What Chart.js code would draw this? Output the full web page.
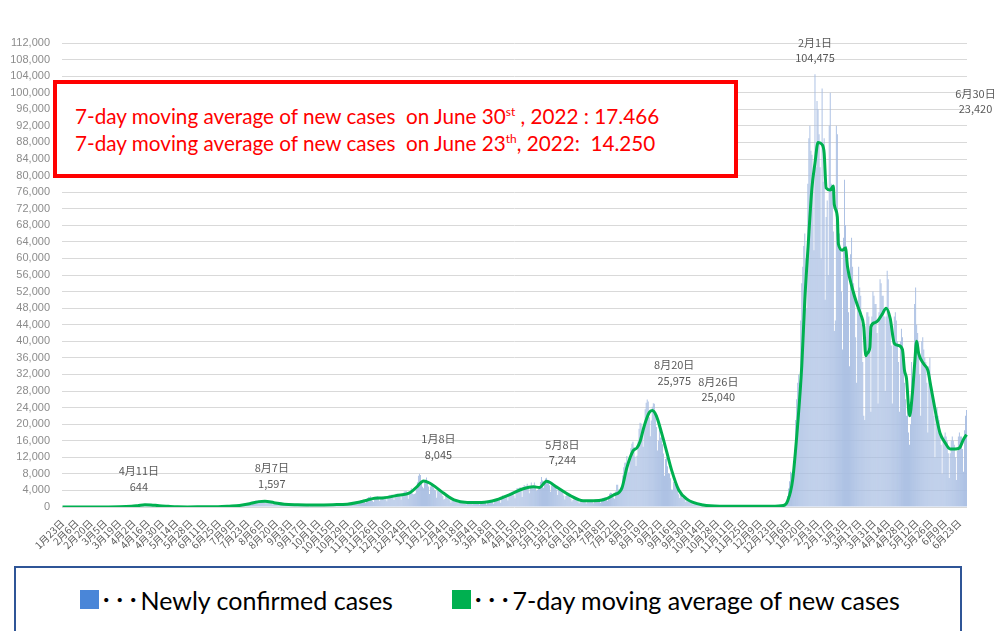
<!DOCTYPE html>
<html>
<head>
<meta charset="utf-8">
<script src="https://cdn.jsdelivr.net/npm/chart.js@4.4.1/dist/chart.umd.min.js"></script>
<style>
  body { margin: 0; width: 1003px; height: 631px; overflow: hidden; background: #fff; position: relative; }
  #chart-wrap { position: absolute; left: 0; top: 0; width: 1003px; height: 566px; }
  #note { position: absolute; left: 53px; top: 80px; width: 685px; height: 98px; box-sizing: border-box;
    border: 4px solid #ff0000; background: #fff; color: #ff0000; font-family: Lato, sans-serif;
    font-size: 20.7px; line-height: 27px; padding: 19px 0 0 18px; white-space: pre; }
  #note sup { font-size: 12px; vertical-align: top; line-height: 18px; }
  #legend { position: absolute; left: 14px; top: 566px; width: 948px; height: 90px; box-sizing: border-box;
    border: 2px solid #2f5597; background: #fff; }
  .sq { position: absolute; top: 22px; width: 19px; height: 19px; }
  .lt { position: absolute; top: 15px; font-family: Lato, sans-serif; font-size: 25px; line-height: 32px; color: #000; white-space: pre; }
  .dots { font-family: "Noto Sans CJK JP", sans-serif; letter-spacing: 1px; }
</style>
</head>
<body>
<div id="chart-wrap"><canvas id="my-chart" width="1003" height="566"></canvas></div>
<div id="note">7-day moving average of new cases  on June 30<sup>st</sup> , 2022 : 17.466
7-day moving average of new cases  on June 23<sup>th</sup>, 2022:  14.250</div>
<div id="legend">
  <div class="sq" style="left:64px;background:#4a86d8"></div>
  <div class="lt" style="left:84px"><span class="dots">･･･</span>Newly confirmed cases</div>
  <div class="sq" style="left:436px;background:#00b050"></div>
  <div class="lt" style="left:456px"><span class="dots">･･･</span>7-day moving average of new cases</div>
</div>
<script>
//Global Variables
let ctx = document.getElementById('my-chart');

let firstDay = Date.UTC(2020, 0, 23);
let dayCount = 890;

// one category per day, 2020-01-23 .. 2022-06-30
let categories = [];
for (let i = 0; i < dayCount; i++) {
  categories.push(new Date(firstDay + i * 86400000).toISOString().slice(0, 10));
}

// labels shown every 14th day
let tickLabels = [
  '1月23日', '2月6日', '2月20日', '3月5日', '3月19日', '4月2日', '4月16日', '4月30日', '5月14日', '5月28日',
  '6月11日', '6月25日', '7月9日', '7月23日', '8月6日', '8月20日', '9月3日', '9月17日', '10月1日', '10月15日',
  '10月29日', '11月12日', '11月26日', '12月10日', '12月24日', '1月7日', '1月21日', '2月4日', '2月18日', '3月4日',
  '3月18日', '4月1日', '4月15日', '4月29日', '5月13日', '5月27日', '6月10日', '6月24日', '7月8日', '7月22日',
  '8月5日', '8月19日', '9月2日', '9月16日', '9月30日', '10月14日', '10月28日', '11月11日', '11月25日', '12月9日',
  '12月23日', '1月6日', '1月20日', '2月3日', '2月17日', '3月3日', '3月17日', '3月31日', '4月14日', '4月28日',
  '5月12日', '5月26日', '6月9日', '6月23日'
];

// newly confirmed cases, one row per week (Thu..Wed)
let dailyCases = [
  0, 1, 0, 0, 1, 1, 2,
  3, 1, 2, 0, 0, 0, 3,
  1, 2, 0, 3, 0, 4, 1,
  3, 8, 5, 4, 9, 6, 3,
  12, 15, 15, 22, 10, 14, 10,
  21, 23, 14, 11, 20, 13, 33,
  34, 59, 47, 39, 33, 26, 54,
  52, 62, 62, 28, 15, 44, 39,
  35, 45, 44, 40, 39, 41, 69,
  95, 123, 200, 173, 87, 194, 266,
  235, 351, 368, 355, 252, 347, 505,
  576, 620, 644, 539, 350, 383, 549,
  574, 585, 560, 450, 250, 380, 390,
  420, 430, 340, 200, 174, 228, 190,
  160, 180, 290, 200, 120, 100, 120,
  90, 85, 110, 90, 50, 85, 60,
  90, 60, 35, 25, 30, 40, 30,
  25, 20, 15, 20, 15, 25, 25,
  40, 50, 50, 25, 35, 30, 40,
  45, 40, 45, 45, 20, 40, 40,
  45, 50, 50, 75, 50, 35, 40,
  45, 60, 55, 60, 35, 55, 95,
  85, 105, 100, 130, 90, 115, 125,
  195, 250, 210, 270, 180, 210, 190,
  350, 430, 390, 410, 260, 330, 450,
  620, 590, 660, 510, 310, 630, 795,
  980, 780, 770, 820, 600, 980, 1260,
  1300, 1580, 1540, 1330, 960, 1230, 1360,
  1480, 1597, 1560, 1440, 910, 1020, 1230,
  1170, 1360, 1230, 1010, 620, 890, 1060,
  1030, 1030, 880, 740, 490, 680, 840,
  870, 850, 650, 600, 440, 570, 610,
  590, 570, 520, 430, 280, 510, 600,
  630, 650, 600, 410, 270, 380, 540,
  580, 600, 570, 480, 280, 200, 370,
  490, 560, 640, 480, 350, 500, 580,
  630, 560, 530, 400, 320, 530, 620,
  650, 600, 560, 420, 260, 480, 610,
  690, 640, 590, 450, 310, 590, 640,
  700, 720, 780, 560, 490, 640, 720,
  800, 760, 860, 620, 480, 700, 630,
  1040, 1150, 1330, 950, 850, 1280, 1540,
  1660, 1710, 1750, 1440, 940, 1700, 2200,
  2390, 2420, 2590, 2170, 1520, 1230, 1940,
  2490, 2510, 2670, 2050, 1440, 2020, 2430,
  2510, 2440, 2520, 2060, 1380, 2150, 2780,
  2970, 2780, 3040, 2410, 1680, 2990, 3210,
  3210, 2990, 2990, 2500, 1780, 2900, 3270,
  3740, 3830, 3880, 2930, 1990, 3600, 3880,
  4520, 3250, 3050, 3140, 3320, 4910, 6000,
  7570, 8045, 7700, 6100, 4880, 4540, 5850,
  6600, 7130, 6000, 4920, 3120, 4940, 5540,
  5410, 4710, 4140, 3980, 2260, 3850, 3950,
  3540, 3350, 3140, 2670, 1790, 1960, 2630,
  2580, 2290, 1980, 1650, 1030, 1560, 1640,
  1470, 1340, 1670, 1300, 920, 1090, 1590,
  1330, 1180, 1210, 910, 740, 620, 1060,
  1010, 1030, 1120, 910, 640, 930, 1170,
  1150, 1160, 1070, 1060, 590, 1010, 1300,
  1310, 1300, 1330, 1060, 600, 1120, 1450,
  1460, 1470, 1530, 1300, 760, 1390, 1910,
  1990, 2020, 2060, 1780, 1010, 2050, 2830,
  2610, 2750, 2790, 2460, 1570, 2650, 3450,
  3450, 3690, 3700, 2780, 2100, 3450, 4570,
  4530, 4530, 4800, 4080, 2420, 4340, 5290,
  5050, 5100, 5600, 4600, 3300, 4960, 5910,
  5000, 4700, 5900, 5200, 3900, 4100, 4400,
  4900, 6050, 7244, 6400, 4630, 6100, 6900,
  7050, 6260, 6410, 5240, 3680, 5230, 5720,
  5280, 5240, 5020, 4250, 2900, 4300, 4460,
  4150, 3870, 3600, 2770, 1810, 2680, 2960,
  2780, 2640, 2580, 2000, 1300, 1660, 2150,
  1940, 1940, 1760, 1390, 930, 1190, 1680,
  1530, 1600, 1390, 1320, 830, 1420, 1570,
  1640, 1680, 1670, 1380, 910, 1650, 1750,
  1760, 1810, 1780, 1580, 1020, 1680, 2190,
  2240, 2280, 2290, 2010, 1500, 2380, 3190,
  3420, 3400, 3090, 2320, 2000, 3760, 5390,
  5400, 4230, 3990, 4690, 4640, 7630, 9580,
  10690, 10740, 12340, 10170, 8380, 12050, 14210,
  15260, 15750, 14470, 12120, 9880, 12400, 15830,
  18870, 20360, 20150, 17400, 14540, 19800, 23600,
  25150, 25975, 25470, 21650, 17050, 20900, 24220,
  25040, 24930, 22760, 19300, 13630, 16010, 20000,
  16800, 16800, 15170, 12900, 7560, 11560, 11950,
  9830, 8210, 7940, 6930, 4240, 4160, 6020,
  5530, 5450, 4690, 4230, 3050, 2200, 3280,
  3170, 2180, 2230, 2080, 1200, 1730, 2090,
  1560, 1450, 1230, 1130, 600, 1130, 1130,
  990, 770, 850, 710, 380, 610, 610,
  620, 510, 520, 430, 250, 370, 390,
  350, 320, 290, 260, 150, 240, 290,
  240, 230, 250, 220, 100, 150, 200,
  170, 160, 220, 160, 100, 150, 170,
  200, 160, 180, 120, 80, 120, 150,
  130, 160, 140, 110, 60, 110, 80,
  110, 130, 120, 100, 80, 110, 130,
  120, 140, 120, 140, 70, 100, 140,
  160, 160, 140, 120, 90, 130, 180,
  180, 170, 180, 120, 110, 180, 250,
  280, 300, 270, 200, 180, 260, 390,
  500, 440, 530, 520, 780, 1270, 2640,
  4470, 6200, 8480, 8250, 6440, 6340, 13240,
  21000, 26000, 30000, 32000, 30000, 45000, 54000,
  58000, 63000, 66000, 60000, 48000, 78000, 89000,
  92000, 86000, 85000, 80000, 62000, 104475, 82000,
  98000, 96000, 90000, 82000, 60000, 101000, 78500,
  89000, 50000, 70000, 74000, 56000, 92000, 100000,
  78000, 76000, 66500, 42500, 45000, 92000, 90000,
  68000, 66000, 62000, 52000, 38000, 65000, 79000,
  68000, 63000, 58000, 47000, 34000, 61000, 65000,
  58000, 54000, 52000, 41000, 30000, 49000, 58000,
  53000, 51000, 44000, 35000, 22000, 21000, 41000,
  47000, 47000, 46000, 40000, 23000, 46000, 52000,
  51000, 49000, 49000, 42000, 25000, 47000, 55000,
  54000, 51000, 51000, 46000, 28000, 46000, 57000,
  55000, 47000, 45000, 39000, 25000, 40000, 46000,
  47000, 45000, 40000, 35000, 23000, 40000, 43000,
  41000, 38000, 30000, 26000, 22000, 28000, 18000,
  15000, 20000, 35000, 30000, 28000, 49000, 53000,
  44000, 42000, 40000, 32000, 22000, 40000, 41000,
  38000, 36000, 35000, 30000, 18000, 34000, 36000,
  30000, 28000, 27000, 22000, 12000, 23000, 24000,
  22000, 21000, 18000, 15000, 8000, 16000, 17000,
  18000, 17000, 16000, 13000, 7000, 13000, 16000,
  17000, 16000, 15000, 12000, 6500, 13500, 17000,
  18000, 17000, 17000, 14000, 8500, 18500, 22000,
  23420
];

// 7-day moving average
let maDates = [
  '2020-01-23', '2020-02-20', '2020-03-05', '2020-03-19', '2020-03-31', '2020-04-06', '2020-04-13', '2020-04-19',
  '2020-04-27', '2020-05-06', '2020-05-15', '2020-05-25', '2020-06-10', '2020-06-24', '2020-07-05', '2020-07-15',
  '2020-07-25', '2020-08-03', '2020-08-09', '2020-08-18', '2020-08-28', '2020-09-10', '2020-09-29', '2020-10-15',
  '2020-10-29', '2020-11-08', '2020-11-18', '2020-11-25', '2020-12-03', '2020-12-16', '2020-12-30', '2021-01-06',
  '2021-01-12', '2021-01-18', '2021-01-24', '2021-02-01', '2021-02-11', '2021-02-24', '2021-03-10', '2021-03-25',
  '2021-04-07', '2021-04-20', '2021-04-30', '2021-05-06', '2021-05-13', '2021-05-23', '2021-06-05', '2021-06-18',
  '2021-06-28', '2021-07-08', '2021-07-18', '2021-07-26', '2021-07-31', '2021-08-06', '2021-08-10', '2021-08-13',
  '2021-08-17', '2021-08-22', '2021-08-25', '2021-08-29', '2021-09-03', '2021-09-08', '2021-09-13', '2021-09-20',
  '2021-09-28', '2021-10-14', '2021-10-31', '2021-12-20', '2022-01-01', '2022-01-05', '2022-01-10', '2022-01-15',
  '2022-01-19', '2022-01-22', '2022-01-25', '2022-01-29', '2022-02-01', '2022-02-04', '2022-02-08', '2022-02-10',
  '2022-02-12', '2022-02-16', '2022-02-19', '2022-02-20', '2022-02-23', '2022-02-24', '2022-02-28', '2022-03-03',
  '2022-03-05', '2022-03-10', '2022-03-15', '2022-03-18', '2022-03-21', '2022-03-23', '2022-03-24', '2022-03-27',
  '2022-03-28', '2022-04-01', '2022-04-04', '2022-04-08', '2022-04-12', '2022-04-16', '2022-04-20', '2022-04-24',
  '2022-04-28', '2022-04-30', '2022-05-02', '2022-05-05', '2022-05-08', '2022-05-10', '2022-05-12', '2022-05-14',
  '2022-05-19', '2022-05-23', '2022-05-26', '2022-05-29', '2022-06-01', '2022-06-04', '2022-06-09', '2022-06-14',
  '2022-06-19', '2022-06-23', '2022-06-27', '2022-06-30'
];
let maValues = [
  0, 5, 25, 40, 160, 330, 560, 500,
  300, 170, 60, 25, 40, 60, 200, 380,
  800, 1300, 1380, 1050, 680, 550, 500, 560,
  680, 1100, 1700, 2100, 2200, 2750, 3500, 5000,
  6300, 5800, 4800, 3300, 1700, 1100, 1100, 1750,
  3000, 4400, 4900, 4700, 6200, 4800, 2800, 1500,
  1500, 1750, 2900, 4500, 9500, 13500, 14300, 15800,
  19500, 22800, 23300, 22000, 18000, 13500, 8900, 4100,
  1900, 480, 200, 180, 350, 1400, 6500, 20000,
  34000, 50000, 62000, 77000, 83000, 88000, 87500, 85500,
  77000, 76500, 77500, 73000, 70000, 63500, 62000, 62500,
  58000, 52500, 48500, 46500, 43500, 36500, 37000, 38500,
  43500, 44500, 45000, 46500, 48000, 45500, 39500, 39000,
  38000, 33000, 31000, 22000, 28000, 34500, 40000, 37000,
  34500, 33000, 29000, 25000, 21000, 17800, 15500, 14000,
  14000, 14250, 16300, 17466
];

// peaks that carry a date / value label
let labelDates = ['2020-04-11', '2020-08-07', '2021-01-08', '2021-05-08', '2021-08-20', '2021-08-26', '2022-02-01', '2022-06-30'];
let labelOffsets = [[-4, -18], [9, -17], [19, -19], [21, -17], [27, -19], [65, -6], [0, -16], [9, -301]];

//label plugin
let peakLabels = {
  id: 'peakLabels',
  afterDatasetsDraw(chart) {
    let c = chart.ctx;
    let xScale = chart.scales.x;
    let yScale = chart.scales.y;
    c.save();
    c.fillStyle = '#595959';
    c.textAlign = 'center';
    c.textBaseline = 'middle';
    c.font = '11px "Noto Sans CJK JP", sans-serif';
    for (let k = 0; k < labelDates.length; k++) {
      let i = categories.indexOf(labelDates[k]);
      let parts = labelDates[k].split('-');
      let px = xScale.getPixelForValue(i) + labelOffsets[k][0];
      let py = yScale.getPixelForValue(dailyCases[i]) + labelOffsets[k][1];
      c.fillText(Number(parts[1]) + '月' + Number(parts[2]) + '日', px, py - 15.5);
      c.fillText(dailyCases[i].toLocaleString('en-US'), px, py);
    }
    c.restore();
  }
};

let chartObject = {
  type: 'bar',
  data: {
    labels: categories,
    datasets: [{
      type: 'line',
      label: '7-day moving average of new cases',
      data: maDates.map((d, k) => ({ x: d, y: maValues[k] })),
      borderColor: '#00b050',
      borderWidth: 3,
      pointRadius: 0,
      cubicInterpolationMode: 'monotone',
      fill: false,
      order: 1
    },
    {
      label: 'Newly confirmed cases',
      data: dailyCases,
      backgroundColor: '#a7bde2',
      categoryPercentage: 1,
      barPercentage: 0.9,
      order: 2
    }]
  },
  options: {
    responsive: false,
    animation: false,
    layout: { padding: { top: 43, right: 36, left: 0, bottom: 0 } },
    plugins: { legend: { display: false }, tooltip: { enabled: false } },
    scales: {
      x: {
        grid: { display: false },
        border: { display: false },
        ticks: {
          autoSkip: false,
          minRotation: 45,
          maxRotation: 45,
          padding: 2,
          color: '#595959',
          font: { size: 10, family: '"Noto Sans CJK JP", sans-serif' },
          callback: function (value, index) {
            return index % 14 === 0 ? tickLabels[index / 14] : null;
          }
        },
        afterFit: function (scale) { scale.height = 59; }
      },
      y: {
        min: 0,
        max: 112000,
        grid: { color: '#d9d9d9', drawTicks: false },
        border: { display: false },
        ticks: {
          stepSize: 4000,
          padding: 12,
          color: '#8c8c8c',
          font: { size: 11, family: '"Liberation Sans", sans-serif' },
          callback: function (value) { return value.toLocaleString('en-US'); }
        },
        afterFit: function (scale) { scale.width = 62; }
      }
    }
  },
  plugins: [peakLabels]
};

const myChart = new Chart(ctx, chartObject); //eslint-disable-line
</script>
</body>
</html>
